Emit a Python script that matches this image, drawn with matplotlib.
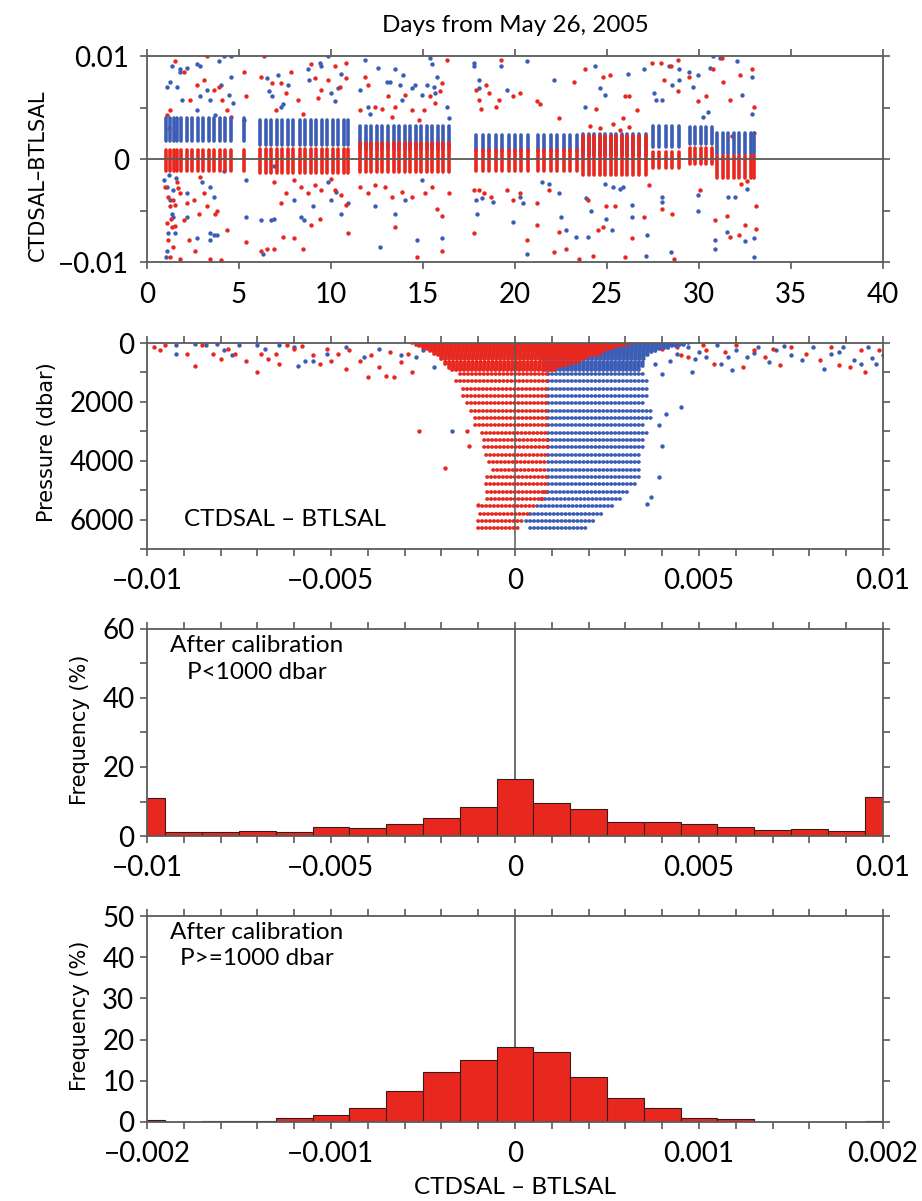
import numpy as np
import matplotlib.pyplot as plt
from matplotlib.ticker import FixedLocator, MultipleLocator

plt.rcParams['font.family'] = ['Lato', 'DejaVu Sans']

RED = '#e8281e'
BLUE = '#3b5db5'
AXC = '#5a5a5a'
BEADS = (0, (0.1, 0.95))   # bottle values sit on a 0.0001 grid -> rows of touching dots

# ---------------- top panel: CTDSAL-BTLSAL vs. days ----------------
# station days, grouped by leg
leg_days = [
    [1.05, 1.25, 1.45, 1.65, 1.85, 2.15, 2.45, 2.75, 3.05, 3.35, 3.65, 3.95, 4.25, 4.55, 5.25],
    [6.15, 6.45, 6.75, 7.05, 7.35, 7.65, 7.95, 8.3, 8.6, 8.9, 9.2, 9.5, 9.8, 10.1, 10.4, 10.7, 10.95],
    [11.6, 11.9, 12.2, 12.5, 12.8, 13.1, 13.4, 13.7, 14.0, 14.3, 14.6, 14.9, 15.2, 15.5, 15.8, 16.1, 16.4],
    [17.9, 18.25, 18.6, 18.95, 19.3, 19.65, 20.0, 20.35, 20.7, 21.25, 21.6, 21.95, 22.3, 22.65, 23.0, 23.35],
    [23.7, 24.0, 24.3, 24.6, 24.9, 25.2, 25.5, 25.8, 26.1, 26.4, 26.75, 27.1],
    [27.5, 27.85, 28.2, 28.55, 28.9],
    [29.5, 29.8, 30.1, 30.4, 30.7],
    [31.0, 31.3, 31.6, 31.9, 32.2, 32.5, 32.8, 33.0],
]
# bulk of each station's bottles (low, high)
blue_band = [(0.0018, 0.0040), (0.0014, 0.0038), (0.0010, 0.0032), (0.0008, 0.0023),
             (0.0004, 0.0024), (0.0012, 0.0032), (0.0015, 0.0031), (0.0005, 0.0025)]
red_band = [(-0.0012, 0.0009), (-0.0014, 0.0010), (-0.0013, 0.0016), (-0.0012, 0.0009),
            (-0.0015, 0.0022), (-0.0009, 0.0007), (-0.0005, 0.0011), (-0.0018, 0.0003)]

# scattered bottles away from the bulk (day, difference)
blue_pts1 = [
    (1.26, 0.0075), (1.08, 0.0070), (1.35, 0.0090), (1.80, 0.0087), (1.62, 0.0070), (1.90, 0.0057),
    (0.90, -0.0020), (1.08, -0.0027), (1.26, -0.0040), (1.35, -0.0053), (1.17, -0.0072), (1.08, -0.0089),
    (1.02, -0.0095), (1.44, -0.0056), (1.53, -0.0072), (2.17, -0.0056), (2.72, -0.0077), (3.45, -0.0072),
    (3.45, -0.0079), (3.63, -0.0074), (3.81, -0.0074), (3.90, 0.0095), (4.18, 0.0100), (4.54, 0.0100),
    (2.72, 0.0092), (2.90, 0.0090), (2.17, 0.0088), (1.80, 0.0085), (2.72, 0.0048), (2.90, 0.0061),
    (3.27, 0.0067), (3.45, 0.0057), (3.72, 0.0043), (4.00, 0.0072), (4.45, 0.0062), (4.54, 0.0080),
    (4.70, 0.0054), (5.27, 0.0038), (5.36, -0.0020), (5.36, -0.0056), (4.18, -0.0012), (2.99, -0.0022),
    (3.45, -0.0027), (2.17, -0.0033), (3.63, -0.0037), (1.20, -0.0015), (1.40, -0.0030), (1.60, -0.0018),
    (6.19, -0.0059), (6.28, -0.0092), (6.73, -0.0059), (6.92, -0.0058), (6.55, 0.0079), (6.64, 0.0066),
    (6.82, 0.0061), (7.10, 0.0082), (7.28, 0.0051), (7.37, 0.0053), (7.65, 0.0072), (8.01, -0.0040),
    (8.38, -0.0056), (8.56, -0.0059), (8.74, 0.0087), (8.83, 0.0077), (9.01, -0.0046), (9.47, 0.0090),
    (9.38, 0.0093), (9.84, 0.0100), (10.0, 0.0064), (10.2, 0.0056), (10.38, 0.0069), (10.57, 0.0083),
    (10.0, -0.0040), (10.29, -0.0032), (10.57, -0.0053), (10.93, -0.0043), (9.84, -0.0022), (6.92, -0.0007),
    (11.57, 0.0067), (11.84, 0.0096), (12.03, 0.0051), (12.12, 0.0044), (12.39, -0.0046), (12.66, -0.0085),
    (12.57, 0.0088), (13.03, 0.0075), (13.21, 0.0075), (13.49, 0.0087), (13.49, -0.0053), (13.76, 0.0072),
    (13.85, 0.0057), (13.94, 0.0082), (14.03, -0.0040), (14.40, 0.0069), (14.58, 0.0072), (14.67, -0.0079),
    (14.95, 0.0062), (15.22, 0.0072), (15.40, 0.0098), (15.49, 0.0092), (15.58, 0.0070), (15.68, 0.0064),
    (15.77, 0.0080), (16.04, -0.0077), (16.31, 0.0051), (16.40, 0.0040), (14.95, -0.0020),
    (17.77, 0.0093), (17.77, 0.0090), (18.05, 0.0077), (18.05, 0.0069), (17.87, -0.0040), (17.96, -0.0053),
    (18.23, -0.0038), (18.78, -0.0042), (19.26, 0.0090), (19.54, 0.0067), (20.64, 0.0095), (20.28, -0.0037),
    (20.46, -0.0043), (19.90, -0.0061), (20.64, -0.0092), (22.12, 0.0077), (21.47, -0.0022), (21.84, -0.0024),
    (22.39, -0.0033), (22.49, -0.0056), (22.76, -0.0069), (23.31, -0.0076), (23.78, 0.0051), (23.87, -0.0038),
    (23.96, -0.0076), (24.14, -0.0050), (24.33, 0.0090), (24.60, 0.0069), (24.88, 0.0062), (24.88, -0.0024),
    (24.97, -0.0058), (25.25, -0.0069), (25.34, -0.0027), (25.71, -0.0029), (25.89, -0.0027), (26.13, 0.0083),
    (26.35, -0.0045), (26.35, -0.0056), (27.0, 0.0087), (27.2, -0.0074), (27.1, -0.0094), (27.55, 0.0064),
    (27.64, 0.0057), (28.0, 0.0057), (28.0, -0.0037), (28.0, -0.0042), (28.47, -0.0090), (28.38, 0.0090),
    (28.56, 0.0072), (28.93, 0.0087), (28.93, 0.0077), (29.48, 0.0085), (29.94, 0.0082), (29.67, 0.0070),
    (29.94, -0.0035), (29.94, -0.0050), (30.22, 0.0041), (30.5, 0.0046), (30.59, 0.0088), (30.77, 0.0100),
    (31.14, 0.0098), (30.86, -0.0079), (30.86, -0.0087), (31.51, -0.0071), (31.6, -0.0037), (31.97, -0.0037),
    (32.06, 0.0095), (32.34, 0.0062), (32.52, -0.0080), (32.9, 0.0080), (33.0, -0.0077), (33.0, -0.0095),
    (32.6, -0.0029), (32.9, 0.0044),
]
red_pts1 = [
    (1.53, 0.0095), (1.26, 0.0048), (1.08, 0.0043), (0.99, -0.0027), (1.17, -0.0037), (1.26, -0.0046),
    (1.44, -0.0040), (1.35, -0.0066), (1.17, -0.0079), (1.26, -0.0095), (1.80, -0.0097), (1.62, -0.0022),
    (1.80, -0.0033), (1.99, -0.0059), (2.26, -0.0079), (2.63, -0.0089), (2.81, -0.0053), (2.54, -0.0040),
    (2.17, -0.0043), (3.08, -0.0033), (3.27, -0.0046), (3.45, -0.0097), (3.72, -0.0053), (3.81, -0.0050),
    (4.36, -0.0069), (4.00, -0.0098), (1.99, 0.0085), (2.35, 0.0057), (2.72, 0.0072), (3.08, 0.0077),
    (3.27, 0.0100), (3.63, 0.0067), (3.90, 0.0070), (4.09, 0.0057), (4.36, 0.0048), (4.54, 0.0041),
    (5.27, 0.0085), (5.36, 0.0061), (5.36, -0.0081), (2.90, -0.0017), (1.30, -0.0058), (1.50, -0.0045),
    (1.70, -0.0028), (1.40, -0.0085), (1.10, -0.0062), (1.55, -0.0065), (1.20, 0.0030), (1.50, 0.0022),
    (6.19, 0.0080), (6.37, 0.0100), (6.19, -0.0089), (6.55, -0.0087), (6.92, -0.0087), (7.37, -0.0076),
    (8.01, -0.0077), (8.47, -0.0087), (6.82, 0.0074), (7.00, 0.0048), (7.28, 0.0074), (7.55, 0.0064),
    (7.83, 0.0085), (8.19, 0.0057), (8.47, 0.0044), (8.92, 0.0092), (9.11, 0.0079), (9.29, 0.0059),
    (9.47, 0.0067), (9.84, 0.0077), (10.2, 0.0090), (10.47, 0.0070), (10.84, 0.0093), (10.84, 0.0079),
    (10.93, -0.0072), (10.84, -0.0045), (10.57, -0.0035), (10.2, -0.0030), (10.0, -0.0019), (9.47, -0.0030),
    (9.11, -0.0025), (8.74, -0.0033), (8.38, -0.0027), (8.01, -0.0020), (7.55, -0.0033), (7.28, -0.0043),
    (6.92, -0.0022), (8.92, -0.0064), (9.38, -0.0058),
    (11.57, 0.0048), (11.84, 0.0080), (12.03, 0.0072), (12.39, 0.0051), (12.76, 0.0049), (13.12, 0.0061),
    (13.3, 0.0041), (13.49, 0.0051), (14.03, 0.0062), (14.4, 0.0048), (14.76, 0.0038), (15.04, 0.0048),
    (15.4, 0.0061), (15.68, 0.0054), (15.95, 0.0066), (16.04, 0.0074), (16.31, 0.0096), (11.57, -0.0027),
    (12.03, -0.0033), (12.39, -0.0025), (12.94, -0.0027), (13.3, -0.0037), (13.49, -0.0066), (13.85, -0.0032),
    (14.4, -0.0037), (14.67, -0.0095), (15.13, -0.0033), (15.49, -0.0027), (15.77, -0.0048), (16.04, -0.0055),
    (16.04, -0.0089), (16.4, -0.0033),
    (17.87, 0.0067), (18.05, 0.0057), (18.14, 0.0049), (18.41, 0.0072), (18.6, 0.0064), (17.77, -0.0030),
    (18.05, -0.0030), (18.32, -0.0033), (18.69, -0.0037), (17.77, -0.0072), (19.14, 0.0057),
    (19.26, 0.0096), (18.99, 0.0051), (19.9, 0.0061), (20.28, 0.0064), (21.2, 0.0056), (21.38, 0.0053),
    (22.39, 0.0040), (23.22, 0.0075), (23.78, 0.0087), (24.42, 0.0049), (24.79, 0.0080), (25.16, 0.0082),
    (25.98, 0.0061), (26.17, 0.0061), (25.89, 0.0040), (26.63, 0.0048), (27.46, 0.0093), (27.92, 0.0093),
    (28.1, 0.0077), (28.47, 0.0090), (28.84, 0.0096), (28.84, 0.0066), (29.48, 0.0080), (29.94, 0.0056),
    (30.4, 0.0061), (30.77, 0.0087), (31.23, 0.0098), (31.33, 0.0075), (31.69, 0.0057), (32.25, 0.0082),
    (32.9, 0.0087), (33.0, 0.0051), (33.0, 0.0025), (19.54, -0.0030), (19.9, -0.0040), (20.28, -0.0033),
    (20.64, -0.0079), (21.2, -0.0043), (21.2, -0.0064), (21.84, -0.0030), (22.39, -0.0071), (22.76, -0.0087),
    (22.12, -0.0090), (23.5, -0.0097), (23.96, -0.0040), (24.24, -0.0094), (24.51, -0.0069), (24.97, -0.0046),
    (25.43, -0.0046), (24.79, -0.0066), (25.98, -0.0095), (26.35, -0.0077), (27.0, -0.0056), (27.27, -0.0025),
    (28.0, -0.0048), (28.65, -0.0097), (28.56, -0.0053), (30.04, -0.0030), (30.86, -0.0059), (31.51, -0.0055),
    (31.69, -0.0076), (32.15, -0.0074), (32.52, -0.0064), (33.1, -0.0046), (33.1, -0.0068),
    (24.1, 0.0032), (24.6, 0.0030), (25.3, 0.0034), (25.7, 0.0028), (26.2, 0.0031), (31.8, 0.0022),
    (32.3, -0.0024), (32.6, -0.0021),
]

# ---------------- second panel: difference vs. pressure ----------------
# deep bottles (P >= 1000 dbar), one row per pressure level
deep_p = [1050, 1300, 1550, 1800, 2050, 2300, 2550, 2800, 3050, 3300, 3550,
          3800, 4050, 4300, 4550, 4800, 5050, 5300, 5550, 5800, 6050, 6300]
deep_blue_lo = [0.0009, 0.0009, 0.0009, 0.0009, 0.0009, 0.0009, 0.0009, 0.0009, 0.0009, 0.0009, 0.0009,
                0.0009, 0.0009, 0.0009, 0.0009, 0.0009, 0.0008, 0.0007, 0.0006, 0.0004, 0.0003, 0.0004]
deep_blue_hi = [0.00355, 0.0036, 0.0036, 0.00365, 0.00355, 0.0037, 0.0037, 0.00355, 0.0036, 0.0035, 0.00355,
                0.00345, 0.00345, 0.00345, 0.0034, 0.0033, 0.0031, 0.0029, 0.0027, 0.0024, 0.0022, 0.0020]
deep_red_lo = [-0.0015, -0.0016, -0.0014, -0.0014, -0.0013, -0.0012, -0.0011, -0.0011, -0.0009, -0.00085, -0.00085,
               -0.0008, -0.0007, -0.0006, -0.00075, -0.0008, -0.00075, -0.00075, -0.0009, -0.00095, -0.0010, -0.0010]
deep_red_hi = [0.0009, 0.0009, 0.0009, 0.0009, 0.0009, 0.0009, 0.0009, 0.0009, 0.0009, 0.0009, 0.0009,
               0.0009, 0.0009, 0.0009, 0.0009, 0.0009, 0.0009, 0.0008, 0.0006, 0.0004, 0.0002, 0.0001]

# upper ocean bottles (P < 1000 dbar)
shallow_p = [10, 60, 110, 160, 210, 260, 310, 360, 420, 490, 560, 630, 700, 770, 840, 910]
shallow_blue_lo = [0.0000, 0.0002, 0.0003, 0.0004, 0.0005, 0.0006, 0.0006, 0.0007, 0.0007, 0.0007, 0.0007,
                   0.0008, 0.0008, 0.0008, 0.0008, 0.0008]
shallow_blue_hi = [0.0048, 0.0046, 0.0044, 0.0042, 0.0040, 0.0039, 0.0038, 0.0037, 0.0037, 0.0036, 0.0036,
                   0.0035, 0.0035, 0.0035, 0.0034, 0.0034]
shallow_red_lo = [-0.0028, -0.0027, -0.0026, -0.0025, -0.0024, -0.0023, -0.0022, -0.0022, -0.0021, -0.0020,
                  -0.0020, -0.0019, -0.0019, -0.0018, -0.0018, -0.0017]
shallow_red_hi = [0.0032, 0.0030, 0.0029, 0.0027, 0.0026, 0.0025, 0.0024, 0.0023, 0.0022, 0.0020,
                  0.0019, 0.0018, 0.0016, 0.0014, 0.0012, 0.0011]

# scattered bottles (difference, pressure)
blue_pts2 = [
    (-0.0092, 80), (-0.0092, 370), (-0.0084, 80), (-0.0081, 25), (-0.0079, 250), (-0.0077, 420),
    (-0.0075, 80), (-0.0070, 80), (-0.0064, 80), (-0.0060, 140), (-0.0059, 770), (-0.0057, 600),
    (-0.0055, 600), (-0.0051, 370), (-0.0046, 140), (-0.0041, 480), (-0.0037, 195), (-0.0031, 420),
    (-0.0027, 480), (-0.0025, 250), (-0.0022, 820), (-0.0017, 3000), (-0.0087, 40), (-0.0068, 200),
    (0.0044, 360), (0.0047, 140), (0.0048, 990), (0.0052, 480), (0.0056, 700), (0.0059, 930),
    (0.0060, 250), (0.0063, 480), (0.0066, 140), (0.0069, 650), (0.0071, 250), (0.0075, 420),
    (0.0078, 590), (0.0081, 140), (0.0084, 875), (0.0086, 360), (0.0089, 140), (0.0092, 590),
    (0.0094, 700), (0.0096, 140), (0.0098, 700), (0.0100, 420), (0.0055, 80), (0.0058, 480),
    (0.0038, 700), (0.0040, 1045), (0.0045, 2180), (0.0041, 2400), (0.0040, 3490), (0.0039, 2800),
    (0.0039, 4570), (0.0037, 5250), (0.0036, 5480), (0.0050, 300), (0.0065, 350), (0.0073, 100),
    (0.0088, 300), (0.0097, 500), (0.0042, 600), (0.0049, 550),
]
red_pts2 = [
    (-0.00965, 250), (-0.0095, 80), (-0.0087, 770), (-0.0089, 370), (-0.0085, 80), (-0.0082, 370),
    (-0.0080, 540), (-0.0078, 195), (-0.0076, 370), (-0.0073, 600), (-0.0070, 1000), (-0.0069, 370),
    (-0.0067, 540), (-0.0065, 370), (-0.0064, 710), (-0.0062, 80), (-0.0060, 195), (-0.0055, 420),
    (-0.0053, 710), (-0.0051, 195), (-0.0050, 600), (-0.0048, 370), (-0.0046, 880), (-0.0045, 250),
    (-0.0042, 600), (-0.0040, 1170), (-0.0039, 420), (-0.0037, 820), (-0.0035, 1110), (-0.0033, 1170),
    (-0.0031, 650), (-0.0029, 370), (-0.0028, 1000), (-0.0026, 3000), (-0.0019, 4250), (-0.0013, 3000),
    (-0.0010, 5500), (-0.00126, 3500), (-0.0098, 150), (-0.0058, 100), (-0.0034, 300),
    (0.0040, 195), (0.0044, 140), (0.0047, 480), (0.0051, 80), (0.0054, 700), (0.0057, 310),
    (0.0062, 820), (0.0065, 250), (0.0068, 480), (0.0072, 760), (0.0075, 140), (0.0079, 360),
    (0.0083, 590), (0.0088, 760), (0.0091, 820), (0.0094, 250), (0.0095, 990), (0.0099, 250),
    (0.0052, 250), (0.0060, 80), (0.0045, 400), (0.0070, 200), (0.0086, 150),
]

# ---------------- histograms after calibration ----------------
bins_shallow = [-0.010, -0.009, -0.008, -0.007, -0.006, -0.005, -0.004, -0.003, -0.002, -0.001, 0.0,
                0.001, 0.002, 0.003, 0.004, 0.005, 0.006, 0.007, 0.008, 0.009, 0.010]
freq_shallow = [11.1, 1.2, 1.3, 1.4, 1.2, 2.5, 2.4, 3.5, 5.1, 8.4, 16.6,
                9.6, 7.8, 4.1, 4.2, 3.6, 2.5, 1.7, 2.1, 1.35, 11.2]
bins_deep = [-0.0020, -0.0018, -0.0016, -0.0014, -0.0012, -0.0010, -0.0008, -0.0006, -0.0004, -0.0002, 0.0,
             0.0002, 0.0004, 0.0006, 0.0008, 0.0010, 0.0012, 0.0014, 0.0016, 0.0018, 0.0020]
freq_deep = [0.4, 0.0, 0.3, 0.3, 0.9, 1.6, 3.4, 7.4, 12.1, 15.1, 18.3,
             16.9, 11.0, 5.8, 3.4, 1.0, 0.7, 0.0, 0.0, 0.0, 0.2]


def frame(ax, pad):
    for s in ax.spines.values():
        s.set_color(AXC)
        s.set_linewidth(1.3)
    ax.tick_params(which='both', direction='out', length=5, width=1.2, color=AXC,
                   top=True, right=True, labelsize=20, pad=pad)


fig = plt.figure(figsize=(9.22, 12.01), dpi=100)
ax1 = fig.add_axes([0.1594, 0.7818, 0.7983, 0.1715])
ax2 = fig.add_axes([0.1594, 0.5429, 0.7983, 0.1715])
ax3 = fig.add_axes([0.1594, 0.3039, 0.7983, 0.1724])
ax4 = fig.add_axes([0.1594, 0.0658, 0.7983, 0.1715])

# --- panel 1: each station drawn as a strip over its bulk range
days = np.concatenate(leg_days)
nper = [len(d) for d in leg_days]
b_lo = np.repeat([b[0] for b in blue_band], nper)
b_hi = np.repeat([b[1] for b in blue_band], nper)
r_lo = np.repeat([r[0] for r in red_band], nper)
r_hi = np.repeat([r[1] for r in red_band], nper)
ax1.vlines(days, b_lo, b_hi, color=BLUE, lw=2.6, capstyle='round')
bx, by = zip(*blue_pts1)
ax1.scatter(bx, by, s=10, color=BLUE, lw=0)
ax1.vlines(days, r_lo, r_hi, color=RED, lw=2.6, capstyle='round')
rx, ry = zip(*red_pts1)
ax1.scatter(rx, ry, s=10, color=RED, lw=0)
ax1.axhline(0, color=AXC, lw=1.3, zorder=3)
ax1.set_xlim(0, 40)
ax1.set_ylim(-0.01, 0.01)
ax1.xaxis.set_major_locator(MultipleLocator(5))
ax1.yaxis.set_major_locator(FixedLocator([-0.01, 0, 0.01]))
ax1.yaxis.set_minor_locator(FixedLocator([-0.005, 0.005]))
ax1.set_yticklabels(['\u22120.01', '0', '0.01'])
frame(ax1, 8)
ax1.tick_params(axis='x', pad=9)

# --- panel 2
ax2.hlines(deep_p, deep_blue_lo, deep_blue_hi, color=BLUE, lw=2.7, linestyle=BEADS, capstyle='round')
ax2.hlines(shallow_p, shallow_blue_lo, shallow_blue_hi, color=BLUE, lw=2.7, linestyle=BEADS, capstyle='round')
bx, bp = zip(*blue_pts2)
ax2.scatter(bx, bp, s=10, color=BLUE, lw=0)
ax2.hlines(deep_p, deep_red_lo, deep_red_hi, color=RED, lw=2.7, linestyle=BEADS, capstyle='round')
ax2.hlines(shallow_p, shallow_red_lo, shallow_red_hi, color=RED, lw=2.7, linestyle=BEADS, capstyle='round')
rx, rp = zip(*red_pts2)
ax2.scatter(rx, rp, s=10, color=RED, lw=0)
ax2.axvline(0, color=AXC, lw=1.1, zorder=3)
ax2.set_xlim(-0.01, 0.01)
ax2.set_ylim(7000, 0)
ax2.xaxis.set_major_locator(FixedLocator([-0.01, -0.005, 0, 0.005, 0.01]))
ax2.xaxis.set_minor_locator(MultipleLocator(0.001))
ax2.set_xticklabels(['\u22120.01', '\u22120.005', '0', '0.005', '0.01'])
ax2.yaxis.set_major_locator(FixedLocator([0, 2000, 4000, 6000]))
ax2.yaxis.set_minor_locator(MultipleLocator(1000))
frame(ax2, 4)
ax2.tick_params(axis='x', pad=9)
ax2.text(-0.0090, 6000, 'CTDSAL \u2013 BTLSAL', fontsize=17.5, va='center')

# --- panel 3
ax3.axvline(0, color='#444444', lw=1.1, zorder=0)
ax3.bar(bins_shallow, freq_shallow, width=0.001, color=RED, edgecolor='#3a1a1a', lw=0.8, zorder=2)
ax3.set_xlim(-0.01, 0.01)
ax3.set_ylim(0, 60)
ax3.xaxis.set_major_locator(FixedLocator([-0.01, -0.005, 0, 0.005, 0.01]))
ax3.xaxis.set_minor_locator(MultipleLocator(0.001))
ax3.set_xticklabels(['\u22120.01', '\u22120.005', '0', '0.005', '0.01'])
ax3.yaxis.set_major_locator(FixedLocator([0, 20, 40, 60]))
ax3.yaxis.set_minor_locator(MultipleLocator(10))
frame(ax3, 4)
ax3.tick_params(axis='x', pad=9)
ax3.text(0.149, 0.855, 'After calibration\nP<1000 dbar', transform=ax3.transAxes,
         fontsize=17.5, ha='center', va='center', linespacing=1.3)

# --- panel 4
ax4.axvline(0, color='#444444', lw=1.1, zorder=0)
ax4.bar(bins_deep, freq_deep, width=0.0002, color=RED, edgecolor='#3a1a1a', lw=0.8, zorder=2)
ax4.set_xlim(-0.002, 0.002)
ax4.set_ylim(0, 50)
ax4.xaxis.set_major_locator(FixedLocator([-0.002, -0.001, 0, 0.001, 0.002]))
ax4.xaxis.set_minor_locator(MultipleLocator(0.0002))
ax4.set_xticklabels(['\u22120.002', '\u22120.001', '0', '0.001', '0.002'])
ax4.yaxis.set_major_locator(MultipleLocator(10))
frame(ax4, 4)
ax4.tick_params(axis='x', pad=9)
ax4.text(0.149, 0.855, 'After calibration\nP>=1000 dbar', transform=ax4.transAxes,
         fontsize=17.5, ha='center', va='center', linespacing=1.3)

# axis titles
fig.text(515 / 922, 1 - 25 / 1201, 'Days from May 26, 2005', fontsize=17.5, ha='center', va='center')
fig.text(515 / 922, 1 - 1187 / 1201, 'CTDSAL \u2013 BTLSAL', fontsize=17.5, ha='center', va='center')
lab = dict(rotation=90, ha='center', va='center', fontsize=15, family='DejaVu Sans')
fig.text(38 / 922, 1 - 175 / 1201, 'CTDSAL\u2013BTLSAL', **lab)
fig.text(47 / 922, 1 - 442 / 1201, 'Pressure (dbar)', **lab)
fig.text(80 / 922, 1 - 730 / 1201, 'Frequency (%)', **lab)
fig.text(80 / 922, 1 - 1016 / 1201, 'Frequency (%)', **lab)

fig.savefig('out.png', dpi=100, facecolor='white')
